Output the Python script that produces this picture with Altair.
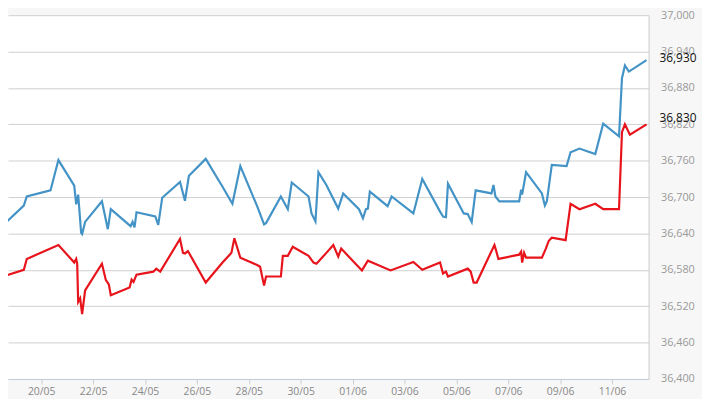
import altair as alt
import pandas as pd

BASE = pd.Timestamp("2016-05-20 00:00")

# time positions: days after 20/05 00:00, prices
blue_day = [-1.585, -1.433, -1.318, -0.671, -0.556, 0.358, 0.663, 1.273, 1.349, 1.425,
            1.539, 1.577, 1.692, 2.340, 2.568, 2.682, 3.445, 3.521, 3.597, 3.673,
            4.397, 4.511, 4.664, 5.350, 5.540, 5.693, 6.341, 6.988, 7.369, 7.674,
            8.322, 8.589, 8.665, 9.237, 9.504, 9.656, 10.304, 10.418, 10.570, 10.685,
            10.990, 11.447, 11.638, 12.247, 12.400, 12.514, 12.590, 12.666, 13.352, 13.505,
            14.343, 14.686, 15.372, 15.486, 15.600, 15.677, 16.286, 16.439, 16.591, 16.744,
            17.353, 17.430, 17.506, 17.658, 18.420, 18.497, 18.535, 18.687, 19.297, 19.411,
            19.487, 19.678, 20.249, 20.402, 20.745, 21.354, 21.659, 22.269, 22.383, 22.497,
            22.650, 23.330]
blue_price = [36628, 36659, 36660, 36686, 36701, 36711, 36761, 36719, 36688, 36704,
              36641, 36639, 36659, 36693, 36647, 36680, 36652, 36659, 36650, 36675,
              36668, 36654, 36699, 36725, 36694, 36735, 36763, 36717, 36689, 36751,
              36685, 36655, 36657, 36701, 36680, 36724, 36701, 36673, 36660, 36741,
              36720, 36681, 36706, 36680, 36665, 36680, 36681, 36709, 36685, 36701,
              36673, 36730, 36676, 36668, 36667, 36722, 36673, 36672, 36659, 36711,
              36706, 36720, 36701, 36693, 36693, 36712, 36704, 36741, 36706, 36686,
              36693, 36753, 36751, 36774, 36780, 36771, 36821, 36800, 36896, 36917,
              36907, 36926]

red_day = [-1.585, -1.471, -1.318, -0.671, -0.556, 0.663, 1.273, 1.349, 1.387, 1.425,
           1.501, 1.577, 1.692, 2.340, 2.492, 2.606, 2.682, 3.407, 3.483, 3.559,
           3.673, 4.321, 4.435, 4.587, 5.350, 5.464, 5.540, 5.654, 6.341, 6.988,
           7.331, 7.445, 7.674, 8.322, 8.436, 8.589, 8.665, 9.237, 9.313, 9.504,
           9.695, 10.304, 10.494, 10.609, 10.990, 11.257, 11.447, 11.561, 12.361, 12.590,
           13.466, 14.343, 14.686, 15.372, 15.486, 15.600, 15.677, 16.439, 16.553, 16.667,
           16.782, 17.468, 17.544, 17.620, 18.420, 18.497, 18.535, 18.611, 18.687, 19.297,
           19.449, 19.563, 19.678, 20.211, 20.402, 20.745, 21.354, 21.659, 22.269, 22.383,
           22.497, 22.688, 23.330]
red_price = [36532, 36567, 36571, 36580, 36598, 36621, 36592, 36598, 36590, 36527,
             36533, 36507, 36546, 36590, 36563, 36556, 36538, 36551, 36564, 36560,
             36572, 36577, 36582, 36577, 36631, 36608, 36607, 36611, 36559, 36592,
             36608, 36632, 36600, 36588, 36585, 36554, 36569, 36569, 36603, 36603,
             36618, 36603, 36592, 36590, 36608, 36621, 36602, 36615, 36579, 36595,
             36579, 36593, 36580, 36592, 36574, 36577, 36569, 36582, 36577, 36559,
             36559, 36621, 36610, 36598, 36605, 36610, 36592, 36608, 36600, 36600,
             36615, 36628, 36633, 36629, 36689, 36680, 36689, 36680, 36680, 36807,
             36820, 36803, 36820]

last_values = [36930, 36830]
last_labels = ["36,930", "36,830"]

x_start_day = -1.28
x_end_day = 23.41
y_ticks = list(range(36400, 37001, 60))


def ts(d):
    return (BASE + pd.Timedelta(days=d)).strftime("%Y-%m-%dT%H:%M:%S")


def dt(d):
    t = BASE + pd.Timedelta(days=d)
    return alt.DateTime(year=t.year, month=t.month, date=t.day,
                        hours=t.hour, minutes=t.minute, seconds=t.second)


rows = [{"time": ts(d), "price": p, "series": "blue"} for d, p in zip(blue_day, blue_price)]
rows += [{"time": ts(d), "price": p, "series": "red"} for d, p in zip(red_day, red_price)]
df = pd.DataFrame(rows)
df_lab = pd.DataFrame({"price": last_values, "text": last_labels})

W, H = 648, 368

yscale = alt.Scale(domain=[36400, 37000], nice=False, zero=False)


def y_axis():
    return alt.Axis(orient="right", values=y_ticks, format=",d", title=None,
                    ticks=False, tickSize=0, labelPadding=12, labelOverlap=False,
                    labelColor="#999999", labelFont="Open Sans", labelFontSize=11,
                    domainColor="#cccccc", gridColor="#cfcfcf")


lines = alt.Chart(df).mark_line(strokeWidth=2.2, clip=True).encode(
    x=alt.X("time:T",
            scale=alt.Scale(domain=[dt(x_start_day), dt(x_end_day)]),
            axis=alt.Axis(values=[dt(2 * i) for i in range(12)], format="%d/%m",
                          title=None, grid=False, labelColor="#888888",
                          labelFont="Open Sans", labelFontSize=10.5,
                          tickSize=5, tickColor="#c8ced6", domainColor="#c4ccd6",
                          labelPadding=3, labelOverlap=False)),
    y=alt.Y("price:Q", scale=yscale, axis=y_axis(), title=None),
    color=alt.Color("series:N",
                    scale=alt.Scale(domain=["blue", "red"], range=["#4393c6", "#e8141c"]),
                    legend=None),
    detail="series:N",
)

labels = alt.Chart(df_lab).mark_text(align="left", baseline="middle",
                                      font="Open Sans", fontSize=12,
                                      color="#111111").encode(
    x=alt.value(W + 11),
    y=alt.Y("price:Q", scale=yscale, axis=y_axis(), title=None),
    text="text:N",
)

chart = alt.layer(lines, labels).properties(
    width=W, height=H,
    autosize=alt.AutoSizeParams(type="none"),
    padding={"left": 0, "top": 5, "right": 54, "bottom": 18},
    background="#f7f7f7",
).configure_view(stroke=None, fill="white")

chart.save("out.html", embed_options={"renderer": "svg", "actions": False})
